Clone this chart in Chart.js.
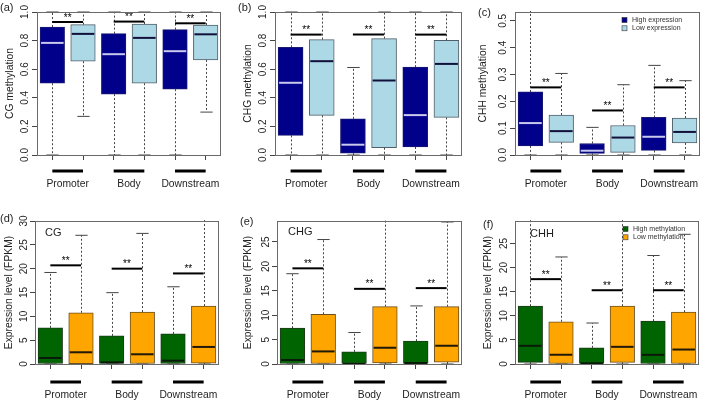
<!DOCTYPE html>
<html>
<head>
<meta charset="utf-8">
<script src="https://cdn.jsdelivr.net/npm/chart.js@4.4.1/dist/chart.umd.min.js"></script>
<style>
  html, body { margin: 0; padding: 0; background: #fff; }
  #wrap { position: relative; width: 709px; height: 402px; overflow: hidden; }
  #wrap canvas { position: absolute; }
</style>
</head>
<body>
<div id="wrap">
  <canvas id="pa"></canvas><canvas id="pb"></canvas><canvas id="pc"></canvas>
  <canvas id="pd"></canvas><canvas id="pe"></canvas><canvas id="pf"></canvas>
</div>
<script>
/* ===== Data ===== */
const GROUPS = ['Promoter', 'Body', 'Downstream'];
// box order on the x axis: high, low | high, low | high, low
const BOX_POS = [1, 2, 3, 4, 5, 6];
const X_TICKS = [1, 1.5, 2, 3, 3.5, 4, 5, 5.5, 6];

const Y_TICKS_METH = [0, 0.2, 0.4, 0.6, 0.8, 1.0];
const Y_TICKS_CHH = [0, 0.1, 0.2, 0.3, 0.4, 0.5];
const Y_TICKS_FPKM30 = [0, 5, 10, 15, 20, 25, 30];
const Y_TICKS_FPKM25 = [0, 5, 10, 15, 20, 25];

// (a) CG methylation, high vs low expression
const cgMethMin = [0, 0.27, 0, 0, 0, 0.30];
const cgMethQ1 = [0.502, 0.656, 0.426, 0.502, 0.460, 0.665];
const cgMethMed = [0.784, 0.847, 0.705, 0.819, 0.726, 0.844];
const cgMethQ3 = [0.895, 0.912, 0.849, 0.916, 0.877, 0.909];
const cgMethMax = [1, 1, 1, 1, 1, 1];
const cgMethSig = [0.930, 0.933, 0.921];

// (b) CHG methylation
const chgMethMin = [0, 0, 0, 0, 0, 0];
const chgMethQ1 = [0.137, 0.277, 0.012, 0.051, 0.056, 0.263];
const chgMethMed = [0.505, 0.656, 0.072, 0.521, 0.279, 0.637];
const chgMethQ3 = [0.753, 0.807, 0.253, 0.814, 0.614, 0.802];
const chgMethMax = [1, 1, 0.612, 1, 1, 1];
const chgMethSig = [0.842, 0.842, 0.842];

// (c) CHH methylation
const chhMethMin = [0, 0, 0, 0, 0, 0];
const chhMethQ1 = [0.034, 0.047, 0.006, 0.010, 0.017, 0.045];
const chhMethMed = [0.119, 0.089, 0.016, 0.065, 0.068, 0.086];
const chhMethQ3 = [0.235, 0.149, 0.043, 0.110, 0.140, 0.138];
const chhMethMax = [0.60, 0.304, 0.103, 0.262, 0.334, 0.277];
const chhMethSig = [0.252, 0.166, 0.252];

// (d) expression, CG high vs low methylation
const cgExpMin = [0, 0, 0, 0, 0, 0];
const cgExpQ1 = [0, 0.07, 0, 0, 0, 0.2];
const cgExpMed = [1.26, 2.46, 0.35, 2.04, 0.7, 3.58];
const cgExpQ3 = [7.59, 10.75, 5.9, 10.9, 6.32, 12.16];
const cgExpMax = [19.2, 27.0, 14.97, 27.4, 16.2, 35];
const cgExpSig = [20.7, 20.0, 19.0];

// (e) expression, CHG
const chgExpMin = [0, 0, 0, 0, 0, 0];
const chgExpQ1 = [0, 0, 0, 0.2, 0, 0.4];
const chgExpMed = [0.82, 2.58, 0.05, 3.33, 0.2, 3.74];
const chgExpQ3 = [7.34, 10.19, 2.51, 11.75, 4.69, 11.75];
const chgExpMax = [18.5, 25.5, 6.45, 35, 11.9, 29.1];
const chgExpSig = [19.6, 15.4, 15.55];

// (f) expression, CHH
const chhExpMin = [0, 0, 0, 0, 0, 0];
const chhExpQ1 = [0.34, 0, 0.14, 0.34, 0, 0.1];
const chhExpMed = [3.77, 1.92, 0.14, 3.56, 1.9, 3.0];
const chhExpQ3 = [11.99, 8.77, 3.36, 12.0, 8.9, 10.75];
const chhExpMax = [35, 22.2, 8.5, 35, 22.5, 26.9];
const chhExpSig = [17.6, 15.3, 15.3];

/* ===== Styles ===== */
const BLUE = { fill: ['#00008B', '#ADD8E6'], edge: ['#1a1a70', '#50606a'], med: ['#c9c9ee', '#10103a'],
  series: ['High expression', 'Low expression'] };
const GREEN = { fill: ['#006400', '#FFA500'], edge: ['#1c3a1c', '#6a5020'], med: ['#0a1a0a', '#201808'],
  series: ['High methylation', 'Low methylation'] };
const FONT = "'Liberation Sans', Arial, sans-serif";
const INK = '#1e1e1e';
const BOX_WIDTH = 0.8; // in x units

const PANELS = [
  { id: 'pa', left: 0, top: 0, w: 235, h: 200, yw: 37, pt: 12, pr: 14, xh: 45, xpad: 18, barOff: 16,
    ymax: 1, yticks: Y_TICKS_METH, dec: 1, title: 'CG methylation', tpad: 4, tag: '(a)', tagX: 0, tagY: 8,
    stats: [cgMethMin, cgMethQ1, cgMethMed, cgMethQ3, cgMethMax], sig: cgMethSig, style: BLUE },
  { id: 'pb', left: 235, top: 0, w: 235, h: 200, yw: 40, pt: 12, pr: 8, xh: 45, xpad: 18, barOff: 16,
    ymax: 1, yticks: Y_TICKS_METH, dec: 1, title: 'CHG methylation', tpad: 6.5, tag: '(b)', tagX: 3, tagY: 8,
    stats: [chgMethMin, chgMethQ1, chgMethMed, chgMethQ3, chgMethMax], sig: chgMethSig, style: BLUE },
  { id: 'pc', left: 470, top: 0, w: 239, h: 200, yw: 45, pt: 12, pr: 9, xh: 45, xpad: 18, barOff: 16,
    ymax: 0.533, yticks: Y_TICKS_CHH, dec: 1, title: 'CHH methylation', tpad: 6.5, tag: '(c)', tagX: 8, tagY: 13,
    stats: [chhMethMin, chhMethQ1, chhMethMed, chhMethQ3, chhMethMax], sig: chhMethSig, style: BLUE,
    legend: { x: 152, y: 20 } },
  { id: 'pd', left: 0, top: 200, w: 235, h: 202, yw: 35, pt: 21, pr: 16, xh: 38, xpad: 20, barOff: 18,
    ymax: 30, yticks: Y_TICKS_FPKM30, dec: 0, title: 'Expression level (FPKM)', tpad: 3, tag: '(d)', tagX: 0, tagY: 19,
    stats: [cgExpMin, cgExpQ1, cgExpMed, cgExpQ3, cgExpMax], sig: cgExpSig, style: GREEN,
    note: { text: 'CG', x: 45, y: 33 } },
  { id: 'pe', left: 235, top: 200, w: 235, h: 202, yw: 42, pt: 21, pr: 8, xh: 38, xpad: 20, barOff: 18,
    ymax: 29.3, yticks: Y_TICKS_FPKM25, dec: 0, title: 'Expression level (FPKM)', tpad: 6.5, tag: '(e)', tagX: 5, tagY: 22,
    stats: [chgExpMin, chgExpQ1, chgExpMed, chgExpQ3, chgExpMax], sig: chgExpSig, style: GREEN,
    note: { text: 'CHG', x: 53, y: 32 } },
  { id: 'pf', left: 470, top: 200, w: 239, h: 202, yw: 45, pt: 21, pr: 10, xh: 38, xpad: 20, barOff: 18,
    ymax: 29.66, yticks: Y_TICKS_FPKM25, dec: 0, title: 'Expression level (FPKM)', tpad: 12, tag: '(f)', tagX: 13, tagY: 25,
    stats: [chhExpMin, chhExpQ1, chhExpMed, chhExpQ3, chhExpMax], sig: chhExpSig, style: GREEN,
    note: { text: 'CHH', x: 60, y: 34 }, legend: { x: 153, y: 29 } },
];

function seg(ctx, x1, y1, x2, y2) {
  ctx.beginPath(); ctx.moveTo(x1, y1); ctx.lineTo(x2, y2); ctx.stroke();
}

/* ===== Whiskers, medians, significance bars, frame ===== */
function makeBoxPlot(P) {
  return {
    id: 'boxPlot',
    beforeDatasetsDraw(chart) {
      const { ctx, chartArea: a, scales: { x, y } } = chart;
      const [lo, q1, , q3, hi] = P.stats;
      ctx.save();
      ctx.beginPath(); ctx.rect(a.left, a.top - 1, a.width, a.height + 2); ctx.clip();
      ctx.strokeStyle = '#444'; ctx.lineWidth = 1;
      BOX_POS.forEach((pos, i) => {
        const px = Math.round(x.getPixelForValue(pos)) + 0.5;
        const cap = x.getPixelForValue(pos + BOX_WIDTH / 4) - x.getPixelForValue(pos);
        ctx.setLineDash([2, 2]);
        seg(ctx, px, y.getPixelForValue(q3[i]), px, y.getPixelForValue(hi[i]));
        seg(ctx, px, y.getPixelForValue(q1[i]), px, y.getPixelForValue(lo[i]));
        ctx.setLineDash([]);
        seg(ctx, px - cap, y.getPixelForValue(hi[i]), px + cap, y.getPixelForValue(hi[i]));
        seg(ctx, px - cap, y.getPixelForValue(lo[i]), px + cap, y.getPixelForValue(lo[i]));
      });
      ctx.restore();
    },
    afterDatasetsDraw(chart) {
      const { ctx, chartArea: a, scales: { x, y } } = chart;
      const med = P.stats[2];
      ctx.save();
      // medians
      ctx.lineWidth = 2;
      BOX_POS.forEach((pos, i) => {
        ctx.strokeStyle = P.style.med[i % 2];
        const py = y.getPixelForValue(med[i]);
        seg(ctx, x.getPixelForValue(pos - BOX_WIDTH / 2) + 1, py, x.getPixelForValue(pos + BOX_WIDTH / 2) - 1, py);
      });
      // significance bars + stars
      ctx.strokeStyle = '#000'; ctx.fillStyle = '#000';
      ctx.font = `10px ${FONT}`; ctx.textAlign = 'center'; ctx.textBaseline = 'alphabetic';
      P.sig.forEach((v, g) => {
        const py = y.getPixelForValue(v);
        ctx.lineWidth = 2;
        seg(ctx, x.getPixelForValue(2 * g + 1), py, x.getPixelForValue(2 * g + 2), py);
        ctx.fillText('**', x.getPixelForValue(2 * g + 1.5), py - 1.5);
      });
      // frame
      ctx.strokeStyle = '#6a6a6a'; ctx.lineWidth = 1;
      ctx.strokeRect(a.left + 0.5, a.top + 0.5, a.width - 1, a.height);
      // group bars under the axis
      ctx.strokeStyle = '#000'; ctx.lineWidth = 3;
      GROUPS.forEach((_, g) => {
        const py = a.bottom + P.barOff;
        seg(ctx, x.getPixelForValue(2 * g + 1), py, x.getPixelForValue(2 * g + 2), py);
      });
      // legend
      if (P.legend) {
        ctx.font = `7px ${FONT}`; ctx.textAlign = 'left'; ctx.textBaseline = 'middle';
        chart.data.datasets.forEach((ds, k) => {
          const ly = P.legend.y + k * 8.3;
          ctx.fillStyle = ds.backgroundColor;
          ctx.fillRect(P.legend.x, ly - 2.5, 5, 5);
          ctx.strokeStyle = '#333'; ctx.lineWidth = 0.6;
          ctx.strokeRect(P.legend.x, ly - 2.5, 5, 5);
          ctx.fillStyle = '#333';
          ctx.fillText(ds.label, P.legend.x + 10, ly);
        });
      }
      // context note and panel tag
      ctx.fillStyle = INK; ctx.textAlign = 'left'; ctx.textBaseline = 'middle';
      if (P.note) {
        ctx.font = `11px ${FONT}`;
        ctx.fillText(P.note.text, P.note.x, P.note.y);
      }
      ctx.font = `11px ${FONT}`;
      ctx.fillText(P.tag, P.tagX, P.tagY);
      ctx.restore();
    }
  };
}

/* ===== Charts ===== */
PANELS.forEach(P => {
  const cv = document.getElementById(P.id);
  cv.width = P.w; cv.height = P.h;
  cv.style.left = P.left + 'px'; cv.style.top = P.top + 'px';
  const q1 = P.stats[1], q3 = P.stats[3];
  const unitPx = (P.w - P.yw - P.pr) / 6;
  const boxes = k => BOX_POS.map((pos, i) => ({ x: pos, y: [q1[i], q3[i]] })).filter((_, i) => i % 2 === k);
  const ds = k => ({
    label: P.style.series[k], data: boxes(k),
    backgroundColor: P.style.fill[k], borderColor: P.style.edge[k], borderWidth: 1,
    borderSkipped: false, grouped: false, barThickness: BOX_WIDTH * unitPx
  });

  new Chart(cv, {
    type: 'bar',
    data: { datasets: [ds(0), ds(1)] },
    options: {
      responsive: false, animation: false,
      layout: { padding: { top: P.pt, right: P.pr, left: 0, bottom: 0 } },
      plugins: { legend: { display: false }, tooltip: { enabled: false } },
      scales: {
        x: {
          type: 'linear', min: 0.5, max: 6.5, offset: false,
          afterBuildTicks: s => { s.ticks = X_TICKS.map(v => ({ value: v })); },
          afterFit: s => { s.height = P.xh; },
          grid: { offset: false, drawOnChartArea: false, tickLength: 5,
            tickColor: c => Number.isInteger(c.tick.value) ? '#444' : 'rgba(0,0,0,0)' },
          border: { display: false },
          ticks: { autoSkip: false, maxRotation: 0, padding: P.xpad, color: INK,
            font: { family: FONT, size: 10.3 },
            callback: v => (v % 1 ? GROUPS[(v - 1.5) / 2] : '') }
        },
        y: {
          min: 0, max: P.ymax,
          afterBuildTicks: s => { s.ticks = P.yticks.map(v => ({ value: v })); },
          afterFit: s => { s.width = P.yw; },
          grid: { drawOnChartArea: false, tickLength: 5, tickColor: '#444' },
          border: { display: false },
          ticks: { minRotation: 90, maxRotation: 90, crossAlign: 'center', padding: 0, color: INK,
            font: { family: FONT, size: 10 }, callback: v => v.toFixed(P.dec) },
          title: { display: true, text: P.title, color: INK, font: { family: FONT, size: 10.3 },
            padding: { top: P.tpad, bottom: 0 } }
        }
      }
    },
    plugins: [makeBoxPlot(P)]
  });
});
</script>
</body>
</html>
